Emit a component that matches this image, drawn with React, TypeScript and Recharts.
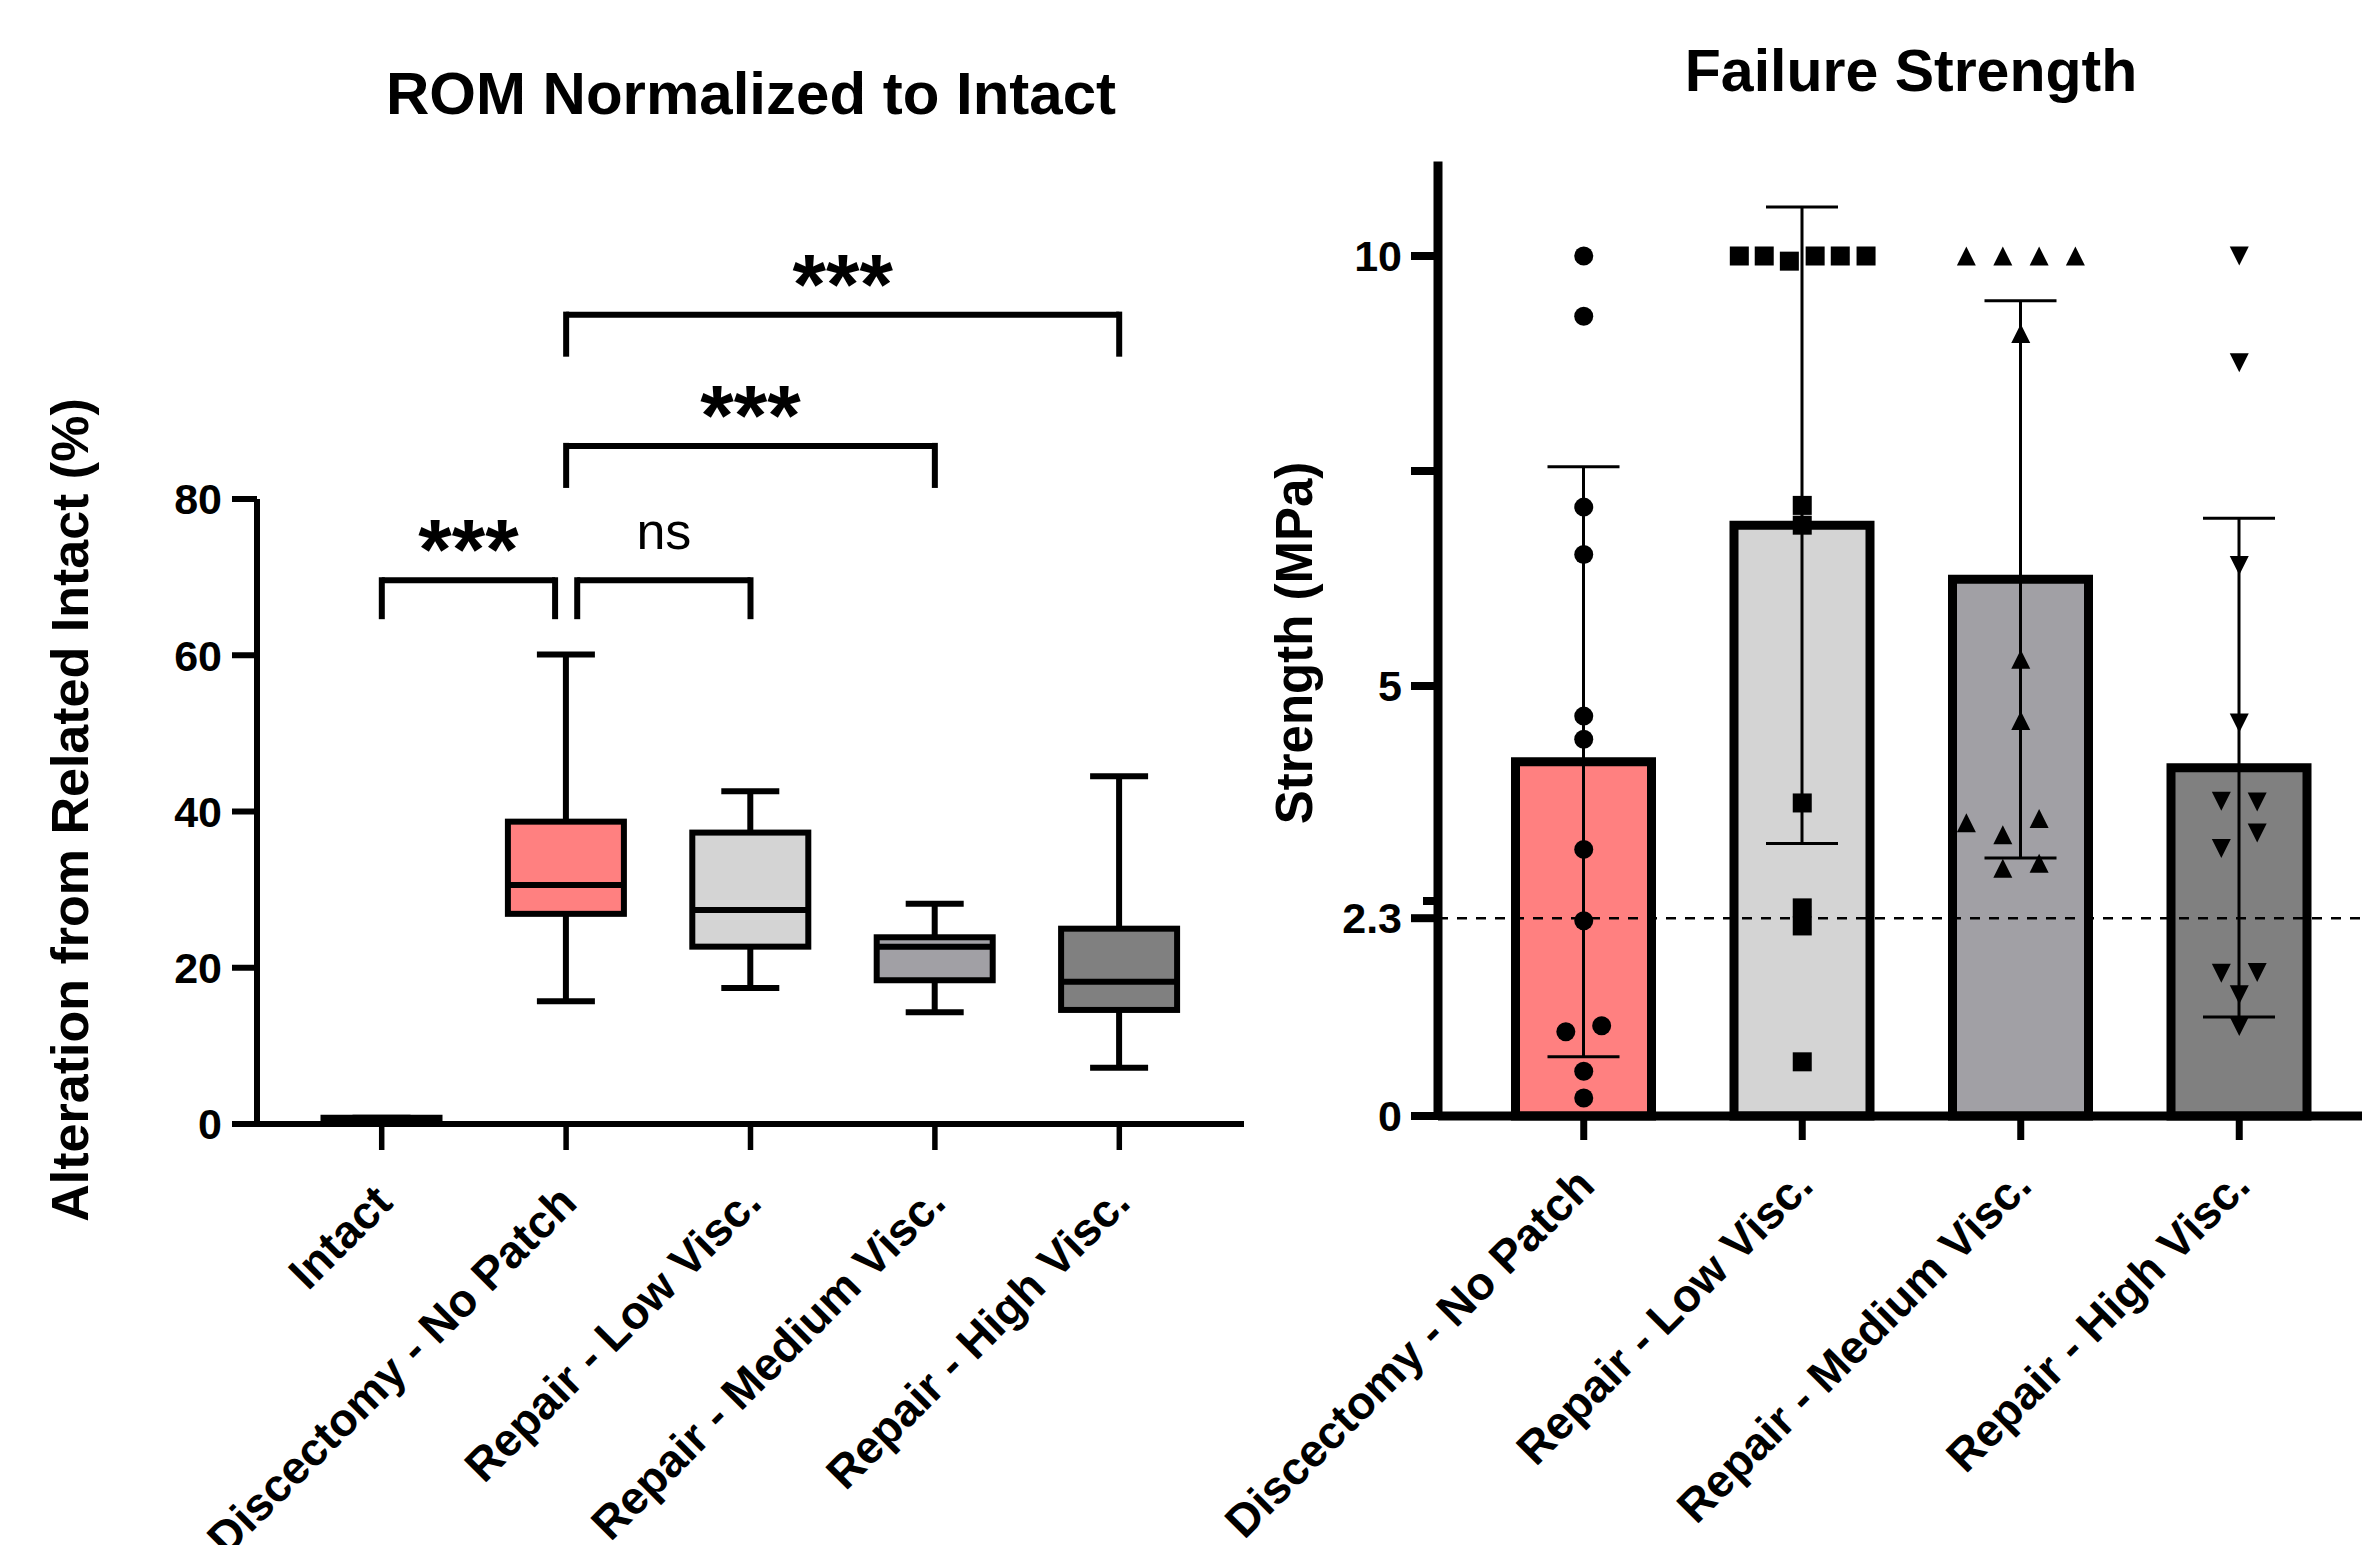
import React from 'react';
import { ComposedChart, Bar, Cell, XAxis, YAxis, ReferenceLine, Scatter, ErrorBar } from 'recharts';

const FONT = "'Liberation Sans', Arial, Helvetica, sans-serif";

// ---- ROM normalized to intact (box and whiskers) ----
const romGroups = ['Intact', 'Discectomy - No Patch', 'Repair - Low Visc.', 'Repair - Medium Visc.', 'Repair - High Visc.'];
const romMin = [0, 15.7, 17.4, 14.3, 7.2];
const romQ1 = [0, 26.9, 22.7, 18.4, 14.6];
const romMedian = [0.4, 30.6, 27.4, 22.7, 18.2];
const romQ3 = [0.8, 38.7, 37.3, 23.9, 25.0];
const romMax = [0.8, 60.1, 42.6, 28.2, 44.5];
const romTicks = [0, 20, 40, 60, 80];
const romColors = ['#000000', '#ff8080', '#d4d4d4', '#a1a0a5', '#808080'];

// significance brackets: group index from/to, bracket top and leg end (in %)
const romComparisons = [
  { from: 0, to: 0.94, top: 69.6, leg: 65.0, text: '***' },
  { from: 1.06, to: 2, top: 69.6, leg: 65.0, text: 'ns' },
  { from: 1, to: 3, top: 86.8, leg: 81.8, text: '***' },
  { from: 1, to: 4, top: 103.6, leg: 98.6, text: '***' },
];

// ---- Failure strength (mean + SD with individual points) ----
const strengthGroups = ['Discectomy - No Patch', 'Repair - Low Visc.', 'Repair - Medium Visc.', 'Repair - High Visc.'];
const strengthMean = [4.12, 6.87, 6.24, 4.05];
const strengthSd = [3.43, 3.7, 3.24, 2.9];
const strengthColors = ['#ff8080', '#d4d4d4', '#a1a0a5', '#808080'];
const strengthTicks = [0, 2.3, 2.5, 5, 7.5, 10];
const strengthTickLabels = ['0', '2.3', '', '5', '', '10'];
const strengthThreshold = 2.3;

const discPoints = [10.0, 9.3, 7.08, 6.53, 4.65, 4.38, 3.1, 2.27, 0.98, 1.05, 0.52, 0.21];
const discJitter = [0, 0, 0, 0, 0, 0, 0, 0, -0.082, 0.082, 0, 0];
const lowPoints = [10, 10, 9.94, 10, 10, 10, 7.1, 6.87, 3.64, 2.42, 2.21, 0.63];
const lowJitter = [-0.288, -0.174, -0.059, 0.059, 0.174, 0.292, 0, 0, 0, 0, 0, 0];
const medPoints = [10, 10, 10, 10, 9.1, 5.31, 4.6, 3.41, 3.46, 3.27, 2.88, 2.94];
const medJitter = [-0.249, -0.082, 0.084, 0.25, 0, 0, 0, -0.249, 0.084, -0.082, -0.082, 0.084];
const highPoints = [10, 8.76, 6.4, 4.57, 3.66, 3.65, 3.29, 3.11, 1.66, 1.67, 1.41, 1.04];
const highJitter = [0, 0, 0, 0, -0.082, 0.082, 0.082, -0.082, -0.082, 0.082, 0, 0];

const pointSets = [
  { values: discPoints, jitter: discJitter, marker: 'circle' },
  { values: lowPoints, jitter: lowJitter, marker: 'square' },
  { values: medPoints, jitter: medJitter, marker: 'up' },
  { values: highPoints, jitter: highJitter, marker: 'down' },
];

const romData = romGroups.map((name, i) => ({
  name,
  range: [romMin[i], romMax[i]],
  q1: romQ1[i],
  median: romMedian[i],
  q3: romQ3[i],
  color: romColors[i],
}));

const strengthData = strengthGroups.map((name, i) => ({
  name,
  mean: strengthMean[i],
  sd: strengthSd[i],
}));

const scatterData = pointSets.map((s, gi) => s.values.map((v, k) => ({ x: gi + s.jitter[k], y: v })));

const BoxShape = (props: any) => {
  const { x, y, width, height, payload } = props;
  const [lo, hi] = payload.range;
  const top = Math.min(y, y + height);
  const h = Math.abs(height);
  const py = (v: number) => top + ((hi - v) / (hi - lo)) * h;
  const cx = x + width / 2;
  const cap = 29;
  const sw = 6;
  return (
    <g>
      <line x1={cx} x2={cx} y1={py(hi)} y2={py(payload.q3)} stroke="#000" strokeWidth={sw} />
      <line x1={cx} x2={cx} y1={py(payload.q1)} y2={py(lo)} stroke="#000" strokeWidth={sw} />
      <line x1={cx - cap} x2={cx + cap} y1={py(hi)} y2={py(hi)} stroke="#000" strokeWidth={sw} />
      <line x1={cx - cap} x2={cx + cap} y1={py(lo)} y2={py(lo)} stroke="#000" strokeWidth={sw} />
      <rect x={x} y={py(payload.q3)} width={width} height={py(payload.q1) - py(payload.q3)} fill={payload.color} stroke="#000" strokeWidth={sw} />
      <line x1={x} x2={x + width} y1={py(payload.median)} y2={py(payload.median)} stroke="#000" strokeWidth={sw} />
    </g>
  );
};

const Marker = ({ cx, cy, kind }: any) => {
  const r = 9.5;
  if (kind === 'circle') return <circle cx={cx} cy={cy} r={r} fill="#000" />;
  if (kind === 'square') return <rect x={cx - r} y={cy - r} width={2 * r} height={2 * r} fill="#000" />;
  if (kind === 'up') return <path d={`M${cx},${cy - r} L${cx + r},${cy + r} L${cx - r},${cy + r} Z`} fill="#000" />;
  return <path d={`M${cx - r},${cy - r} L${cx + r},${cy - r} L${cx},${cy + r} Z`} fill="#000" />;
};

const makeSlantTick = (dy: number) => (props: any) => {
  const { x, y, payload } = props;
  const px = x + 13;
  const py = y + dy;
  return (
    <text x={px} y={py} transform={`rotate(-45, ${px}, ${py})`} textAnchor="end" fontSize={46} fontWeight={700} fontFamily={FONT} fill="#000">
      {payload.value}
    </text>
  );
};

const StrengthTick = (props: any) => {
  const { x, y, payload } = props;
  const idx = strengthTicks.indexOf(payload.value);
  const label = strengthTickLabels[idx];
  const len = payload.value === 2.5 ? 15 : 27;
  return (
    <g>
      <line x1={x - len} x2={x} y1={y} y2={y} stroke="#000" strokeWidth={8} />
      {label ? (
        <text x={x - 36} y={y} dy="0.355em" textAnchor="end" fontSize={43} fontWeight={700} fontFamily={FONT} fill="#000">
          {label}
        </text>
      ) : null}
    </g>
  );
};

const labelStyle = (text: string) =>
  text === 'ns'
    ? { value: text, position: 'top' as const, offset: 31, fontSize: 52, fontWeight: 400, fill: '#000', fontFamily: FONT }
    : { value: text, position: 'top' as const, offset: 1, fontSize: 86, fontWeight: 700, fill: '#000', fontFamily: FONT };

const RomChart = () => (
  <ComposedChart width={1260} height={1545} data={romData} margin={{ top: 499, right: 16, bottom: 221, left: 137 }}>
    <XAxis
      xAxisId="cat"
      dataKey="name"
      interval={0}
      padding={{ left: 32.5, right: 32.5 }}
      height={200}
      stroke="#000"
      axisLine={{ stroke: '#000', strokeWidth: 6 }}
      tickLine={{ stroke: '#000', strokeWidth: 5.5 }}
      tickSize={26}
      tickMargin={0}
      tick={makeSlantTick(55)}
    />
    <XAxis xAxisId="pos" type="number" dataKey="x" domain={[-0.677, 4.677]} allowDataOverflow hide />
    <YAxis
      domain={[0, 80]}
      ticks={romTicks}
      interval={0}
      width={120}
      stroke="#000"
      axisLine={{ stroke: '#000', strokeWidth: 6 }}
      tickLine={{ stroke: '#000', strokeWidth: 6 }}
      tickSize={25}
      tickMargin={10}
      tick={{ fill: '#000', fontSize: 43, fontWeight: 700, fontFamily: FONT }}
    />
    <Bar xAxisId="cat" dataKey="range" barSize={116} shape={BoxShape} isAnimationActive={false} />
    {romComparisons.map((c, i) => (
      <React.Fragment key={i}>
        <ReferenceLine xAxisId="pos" segment={[{ x: c.from, y: c.leg }, { x: c.from, y: c.top }]} stroke="#000" strokeWidth={6} strokeLinecap="square" ifOverflow="visible" />
        <ReferenceLine xAxisId="pos" segment={[{ x: c.to, y: c.leg }, { x: c.to, y: c.top }]} stroke="#000" strokeWidth={6} strokeLinecap="square" ifOverflow="visible" />
        <ReferenceLine xAxisId="pos" segment={[{ x: c.from, y: c.top }, { x: c.to, y: c.top }]} stroke="#000" strokeWidth={6} ifOverflow="visible" label={labelStyle(c.text)} />
      </React.Fragment>
    ))}
  </ComposedChart>
);

const StrengthChart = () => (
  <ComposedChart width={1200} height={1545} data={strengthData} margin={{ top: 161.4, right: 15, bottom: 229, left: 118 }}>
    <XAxis
      xAxisId="cat"
      dataKey="name"
      interval={0}
      padding={{ left: 36.5, right: 36.5 }}
      height={200}
      stroke="#000"
      axisLine={{ stroke: '#000', strokeWidth: 9 }}
      tickLine={{ stroke: '#000', strokeWidth: 7 }}
      tickSize={24}
      tickMargin={0}
      tick={makeSlantTick(48)}
    />
    <XAxis xAxisId="pos" type="number" dataKey="x" domain={[-0.667, 3.667]} allowDataOverflow hide />
    <YAxis
      domain={[0, 11.1]}
      ticks={strengthTicks}
      interval={0}
      width={120}
      stroke="#000"
      axisLine={{ stroke: '#000', strokeWidth: 9 }}
      tickLine={false}
      tickSize={0}
      tickMargin={0}
      tick={StrengthTick}
    />
    <Bar xAxisId="cat" dataKey="mean" barSize={136} stroke="#000" strokeWidth={9} isAnimationActive={false}>
      {strengthData.map((d, i) => (
        <Cell key={d.name} fill={strengthColors[i]} />
      ))}
      <ErrorBar dataKey="sd" width={36} strokeWidth={3} stroke="#000" direction="y" />
    </Bar>
    <ReferenceLine xAxisId="cat" y={strengthThreshold} stroke="#000" strokeWidth={2.5} strokeDasharray="10 9" />
    {scatterData.map((pts, gi) => (
      <Scatter
        key={gi}
        xAxisId="pos"
        data={pts}
        dataKey="y"
        isAnimationActive={false}
        shape={(p: any) => <Marker cx={p.cx} cy={p.cy} kind={pointSets[gi].marker} />}
      />
    ))}
  </ComposedChart>
);

export default function App() {
  return (
    <div style={{ position: 'fixed', left: 0, top: 0, width: 2362, height: 1545, overflow: 'hidden', background: '#fff', fontFamily: FONT }}>
      <div style={{ position: 'absolute', left: 0, top: 0 }}>
        <RomChart />
      </div>
      <div style={{ position: 'absolute', left: 1200, top: 0 }}>
        <StrengthChart />
      </div>
      <svg width={2362} height={1545} style={{ position: 'absolute', left: 0, top: 0, pointerEvents: 'none' }}>
        <text x={751} y={114} textAnchor="middle" fontSize={60} fontWeight={700} fontFamily={FONT} fill="#000">
          ROM Normalized to Intact
        </text>
        <text x={1911} y={91} textAnchor="middle" fontSize={59} fontWeight={700} fontFamily={FONT} fill="#000">
          Failure Strength
        </text>
        <text transform="translate(88, 810) rotate(-90)" textAnchor="middle" fontSize={52} fontWeight={700} fontFamily={FONT} fill="#000">
          Alteration from Related Intact (%)
        </text>
        <text transform="translate(1312, 643) rotate(-90)" textAnchor="middle" fontSize={51} fontWeight={700} fontFamily={FONT} fill="#000">
          Strength (MPa)
        </text>
      </svg>
    </div>
  );
}
